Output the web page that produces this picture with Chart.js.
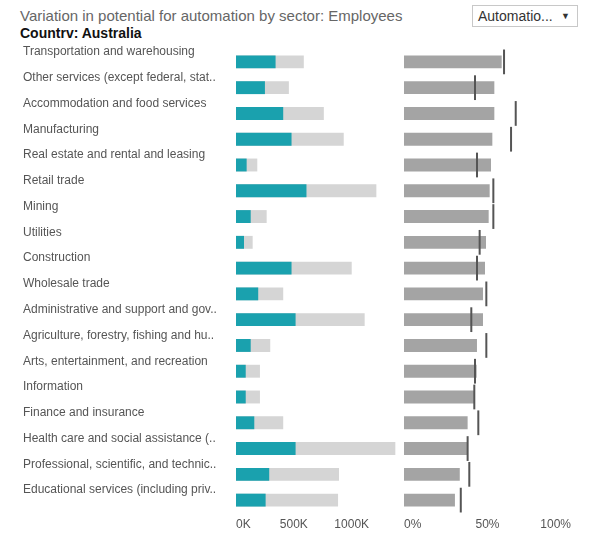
<!DOCTYPE html>
<html>
<head>
<meta charset="utf-8">
<script src="https://cdn.jsdelivr.net/npm/chart.js@4.4.0/dist/chart.umd.min.js"></script>
<style>
body{margin:0;background:#fff;width:600px;height:538px;overflow:hidden;position:relative;font-family:"Liberation Sans",Arial,sans-serif;}
#title{position:absolute;left:20px;top:7px;font-size:15px;color:#666;white-space:nowrap;}
#country{position:absolute;left:20px;top:25px;font-size:14px;font-weight:bold;color:#111;}
#picker{position:absolute;left:472px;top:5px;width:106px;height:22px;border:1px solid #c8c8c8;background:#fff;font-size:14px;color:#333;line-height:20px;box-sizing:border-box;padding-left:5px;}
#picker span{position:absolute;right:7px;top:0;font-size:9px;color:#333;}
#leftChart{position:absolute;left:0;top:0;}
#rightChart{position:absolute;left:400px;top:0;}
</style>
</head>
<body>
<div id="title">Variation in potential for automation by sector: Employees</div>
<div id="country">Countrv: Australia</div>
<div id="picker">Automatio...<span>&#9660;</span></div>
<canvas id="leftChart" width="400" height="538"></canvas>
<canvas id="rightChart" width="200" height="538"></canvas>
<script>
'use strict';

// sectors, as truncated in the original view
let sectors=['Transportation and warehousing','Other services (except federal, stat..','Accommodation and food services',
'Manufacturing','Real estate and rental and leasing','Retail trade','Mining','Utilities','Construction','Wholesale trade',
'Administrative and support and gov..','Agriculture, forestry, fishing and hu..','Arts, entertainment, and recreation',
'Information','Finance and insurance','Health care and social assistance (..','Professional, scientific, and technic..',
'Educational services (including priv..'];

// employees in thousands
let automatableK=[342,250,408,480,92,609,127,69,480,192,515,127,84,84,158,515,287,256];
let employeesK=[586,457,759,931,184,1213,265,144,1000,408,1112,296,207,207,408,1377,890,882];

// automation potential, %
let potential=[58.5,54.1,54.1,52.9,52.1,51.3,50.7,49.1,48.5,47.3,47.3,43.7,43.5,41.9,38.1,38.1,33.4,30.5];
let benchmark=[59.9,42.5,66.9,64.1,43.7,53.5,53.5,45.3,43.7,49.3,40.3,49.3,42.5,42.1,44.5,38.1,39.1,34.0];

let countTicks=[0,500,1000];
let pctTicks=[0,50,100];

let tickFont={family:'"Liberation Sans", Arial, sans-serif',size:12};
let tickColor='#555';

// labelled ticks; an unlabelled one is added at the scale end when it isn't a tick
function keepTicks(list){
    return function(scale){
        let t=list.map(v=>({value:v}));
        if(list[list.length-1]!==scale.max){
            t.push({value:scale.max,hidden:true});
        }
        scale.ticks=t;
    };
}

// fixed axis height, no extra room for overhanging edge labels
function fitAxis(s){
    s.height=25;
    s.paddingLeft=0;
    s.paddingRight=0;
}

/////////////////////////////// left: employees ///////////////////////////////
new Chart(document.getElementById('leftChart'),{
    type:'bar',
    data:{
        labels:sectors,
        datasets:[{
            label:'Automatable employees',
            data:automatableK,
            backgroundColor:'#1aa1ae',
            order:0,
            grouped:false,
            barPercentage:0.5,
            categoryPercentage:1
        },
        {
            label:'Employees',
            data:employeesK,
            backgroundColor:'#d5d5d5',
            order:1,
            grouped:false,
            barPercentage:0.5,
            categoryPercentage:1
        }]
    },
    options:{
        indexAxis:'y',
        responsive:false,
        animation:false,
        layout:{padding:{left:23,top:49,right:2,bottom:0}},
        plugins:{legend:{display:false},tooltip:{enabled:false}},
        scales:{
            x:{
                min:0,max:1400,
                grid:{display:false,drawTicks:false},
                border:{display:false},
                afterBuildTicks:keepTicks(countTicks),
                afterFit:fitAxis,
                ticks:{font:tickFont,color:tickColor,padding:4,maxRotation:0,align:'inner',
                    callback:v=>countTicks.includes(v)?v+'K':''}
            },
            y:{
                grid:{display:false,drawTicks:false},
                border:{display:false},
                afterFit:function(s){s.width=213;},
                ticks:{font:tickFont,color:tickColor,crossAlign:'far',labelOffset:-10,padding:0,autoSkip:false}
            }
        }
    }
});

/////////////////////////////// right: potential % ///////////////////////////////
new Chart(document.getElementById('rightChart'),{
    type:'bar',
    data:{
        labels:sectors,
        datasets:[{
            label:'Benchmark',
            data:benchmark.map(v=>[v-0.6,v+0.6]),
            backgroundColor:'#555',
            order:0,
            grouped:false,
            barPercentage:0.96,
            categoryPercentage:1
        },
        {
            label:'Automation potential',
            data:potential,
            backgroundColor:'#a4a4a4',
            order:1,
            grouped:false,
            barPercentage:0.5,
            categoryPercentage:1
        }]
    },
    options:{
        indexAxis:'y',
        responsive:false,
        animation:false,
        layout:{padding:{left:4,top:49,right:29,bottom:0}},
        plugins:{legend:{display:false},tooltip:{enabled:false}},
        scales:{
            x:{
                min:0,max:100,
                grid:{display:false,drawTicks:false},
                border:{display:false},
                afterBuildTicks:keepTicks(pctTicks),
                afterFit:fitAxis,
                ticks:{font:tickFont,color:tickColor,padding:4,maxRotation:0,align:'inner',callback:v=>v+'%'}
            },
            y:{display:false}
        }
    }
});
</script>
</body>
</html>
